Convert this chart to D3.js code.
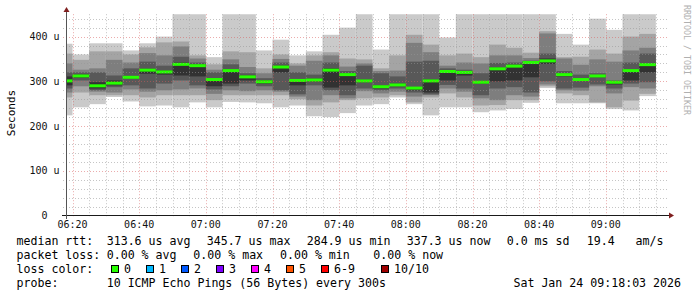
<!DOCTYPE html>
<html>
<head>
<meta charset="utf-8">
<script src="https://cdn.jsdelivr.net/npm/d3@7"></script>
<style>
body { margin: 0; background: #fff; }
svg { display: block; }
text { font-family: "DejaVu Sans Mono", monospace; white-space: pre; }
</style>
</head>
<body>
<script>
// end time of each 5 minute step (300s)
var times = ["06:20","06:25","06:30","06:35","06:40","06:45","06:50","06:55","07:00","07:05","07:10","07:15",
  "07:20","07:25","07:30","07:35","07:40","07:45","07:50","07:55","08:00","08:05","08:10","08:15",
  "08:20","08:25","08:30","08:35","08:40","08:45","08:50","08:55","09:00","09:05","09:10","09:15"];

// sorted pings in microseconds, ping1 = fastest, ping10 = slowest
var ping1 = [224,242,249,265,255,244,246,242,253,242,254,253,251,242,246,222,220,229,246,249,264,249,224,242,242,231,235,238,252,285,251,251,251,238,235,267];
var ping2 = [264,275,269,269,269,264,269,269,269,258,269,269,269,269,260,246,253,258,262,264,269,253,264,273,264,246,247,258,258,289,273,269,253,242,257,272];
var ping3 = [275,289,277,275,282,277,280,282,284,272,280,278,280,277,266,258,269,262,278,273,277,266,269,284,277,262,258,269,266,293,280,279,289,273,287,284];
var ping4 = [284,302,280,287,291,284,295,302,291,282,289,295,289,280,271,291,280,269,284,280,284,275,271,292,284,269,284,287,275,300,284,286,293,284,295,298];
var ping5 = [291,308,284,291,306,317,315,313,311,289,295,302,295,320,291,300,286,291,298,284,289,280,275,302,313,295,300,302,309,339,311,302,309,293,302,320];
var ping6 = [311,315,298,302,311,328,324,342,338,307,327,313,302,335,304,306,329,318,304,291,295,286,304,324,322,300,331,337,344,351,318,307,314,300,327,341];
var ping7 = [320,320,320,313,329,344,335,355,342,320,338,318,307,342,320,315,342,323,335,318,311,344,346,329,326,318,341,342,346,362,323,315,318,302,342,362];
var ping8 = [340,326,329,348,342,363,358,378,351,326,349,332,318,350,335,346,358,333,340,323,324,386,365,335,342,340,358,358,352,407,351,337,349,344,369,375];
var ping9 = [362,348,367,367,360,376,387,389,358,338,367,365,329,360,340,358,365,351,349,329,358,404,382,358,362,354,382,375,364,412,354,355,371,362,400,406];
var ping10 = [384,360,385,385,369,385,400,460,460,354,460,460,369,393,358,367,404,420,460,371,460,460,460,398,460,460,460,460,460,460,406,382,440,415,460,460];
var median = [301,312,290,296,309,325,321,338,335,304,324,310,299,332,302,303,325,315,301,288,292,284.9,301,322,320,298,328,334,342,345.7,315,304,312,298,324,337.3];

var yTicks = [0, 100, 200, 300, 400];
var lossLabels = ["0", "1", "2", "3", "4", "5", "6-9", "10/10"];
var lossColors = ["#26ff00", "#00b8ff", "#0059ff", "#7e00ff", "#ff00ff", "#ff5500", "#ff0000", "#a00000"];
var smokeColors = ["#cacaca", "#a4a4a4", "#7e7e7e", "#585858", "#323232"];

var W = 697, H = 297;
var svg = d3.select("body").append("svg").attr("width", W).attr("height", H);

var parse = d3.timeParse("%Y-%m-%d %H:%M:%S");
var day = "2026-01-24 ";
var t0 = parse(day + "06:18:03"), t1 = parse(day + "09:18:03");
var x = d3.scaleTime().domain([t0, t1]).range([66, 666]);
var y = d3.scaleLinear().domain([0, 450]).range([215.6, 14.2]);

var pings = [ping1, ping2, ping3, ping4, ping5, ping6, ping7, ping8, ping9, ping10];
var ends = times.map(function (t) { return parse(day + t + ":00"); });

svg.append("clipPath").attr("id", "plot")
  .append("rect").attr("x", 66).attr("y", y(450)).attr("width", 600).attr("height", y(0) - y(450));

var g = svg.append("g").attr("clip-path", "url(#plot)");

function left(d) { return Math.max(66, x(d3.timeMinute.offset(d, -5))); }

// smoke: outer pair first, inner pairs on top
for (var k = 0; k < 5; k++) {
  g.selectAll(".s" + k)
    .data(ends)
    .enter()
    .append("rect")
    .attr("x", left)
    .attr("width", function (d) { return x(d) - left(d); })
    .attr("y", function (d, i) { return y(pings[9 - k][i]); })
    .attr("height", function (d, i) { return y(pings[k][i]) - y(pings[9 - k][i]); })
    .attr("fill", smokeColors[k]);
}

// median rtt
g.selectAll(".med")
  .data(ends)
  .enter()
  .append("rect")
  .attr("x", left)
  .attr("width", function (d) { return x(d) - left(d); })
  .attr("y", function (d, i) { return y(median[i]) - 1.5; })
  .attr("height", 3)
  .attr("fill", lossColors[0]);

// grid
var minorX = d3.timeMinute.every(5).range(t0, t1);
var minorY = d3.range(20, 450, 20);
var grid = svg.append("g");
grid.selectAll(".vx")
  .data(minorX)
  .enter()
  .append("line")
  .attr("x1", function (d) { return Math.round(x(d)) + 0.5; })
  .attr("x2", function (d) { return Math.round(x(d)) + 0.5; })
  .attr("y1", y(450)).attr("y2", y(0) + 2)
  .attr("stroke", function (d) { return d.getMinutes() % 20 == 0 ? "rgba(215,90,90,0.5)" : "rgba(150,150,150,0.55)"; })
  .attr("stroke-dasharray", "1,2");
grid.selectAll(".hy")
  .data(minorY)
  .enter()
  .append("line")
  .attr("x1", 63).attr("x2", 668)
  .attr("y1", function (d) { return Math.round(y(d)) + 0.5; })
  .attr("y2", function (d) { return Math.round(y(d)) + 0.5; })
  .attr("stroke", function (d) { return d % 100 == 0 ? "rgba(215,90,90,0.5)" : "rgba(150,150,150,0.55)"; })
  .attr("stroke-dasharray", "1,2");

// axes
svg.append("line").attr("x1", 62).attr("x2", 669).attr("y1", 215.5).attr("y2", 215.5).attr("stroke", "#1a1a1a");
svg.append("line").attr("x1", 66.5).attr("x2", 66.5).attr("y1", 219).attr("y2", 9).attr("stroke", "#555");
svg.append("path").attr("d", "M669,212.5 L674,215.5 L669,218.5 Z").attr("fill", "#7f1f1f");
svg.append("path").attr("d", "M63.5,12 L66.5,7 L69.5,12 Z").attr("fill", "#7f1f1f");

svg.selectAll(".yl")
  .data(yTicks)
  .enter()
  .append("text")
  .attr("x", 59.5)
  .attr("y", function (d) { return y(d) + 3.5; })
  .attr("text-anchor", "end")
  .attr("font-size", "10px")
  .attr("fill", "#111")
  .text(function (d) { return d == 0 ? "0  " : d + " u"; });

svg.selectAll(".xl")
  .data(minorX.filter(function (d) { return d.getMinutes() % 20 == 0; }))
  .enter()
  .append("text")
  .attr("x", function (d) { return x(d); })
  .attr("y", 228)
  .attr("text-anchor", "middle")
  .attr("font-size", "10px")
  .attr("fill", "#111")
  .text(d3.timeFormat("%H:%M"));

svg.append("text")
  .attr("transform", "translate(15,113) rotate(-90)")
  .attr("text-anchor", "middle")
  .attr("font-size", "11px")
  .text("Seconds");

svg.append("text")
  .attr("transform", "translate(683.5,5) rotate(90)")
  .attr("font-size", "8.3px")
  .attr("fill", "#b0b0b0")
  .text("RRDTOOL / TOBI OETIKER");

// legend rows
var fs = "11.6px";
function put(tx, ty, s, anchor) {
  svg.append("text").attr("x", tx).attr("y", ty).attr("font-size", fs)
    .attr("text-anchor", anchor || "start").attr("fill", "#000").text(s);
}
put(16.5, 245, "median rtt:");
put(106.7, 245, "313.6 us avg");
put(206.7, 245, "345.7 us max");
put(306.7, 245, "284.9 us min");
put(406.7, 245, "337.3 us now");
put(506.7, 245, "0.0 ms sd");
put(586.7, 245, "19.4   am/s");

put(16.5, 259, "packet loss:");
put(106.7, 259, "0.00 % avg");
put(193.3, 259, "0.00 % max");
put(280, 259, "0.00 % min");
put(373.3, 259, "0.00 % now");

put(16.5, 273, "loss color:");
var boxX = [111.5, 146.5, 181.5, 216.5, 251.5, 286.5, 321.5, 381.5];
lossLabels.forEach(function (l, i) {
  svg.append("rect").attr("x", boxX[i]).attr("y", 265.5).attr("width", 7).attr("height", 7)
    .attr("fill", lossColors[i]).attr("stroke", "#000").attr("stroke-width", 1);
  put(boxX[i] + 12.5, 273, l);
});

put(16.5, 287, "probe:");
put(106.7, 287, "10 ICMP Echo Pings (56 Bytes) every 300s");
put(681, 287, "Sat Jan 24 09:18:03 2026", "end");
</script>
</body>
</html>
